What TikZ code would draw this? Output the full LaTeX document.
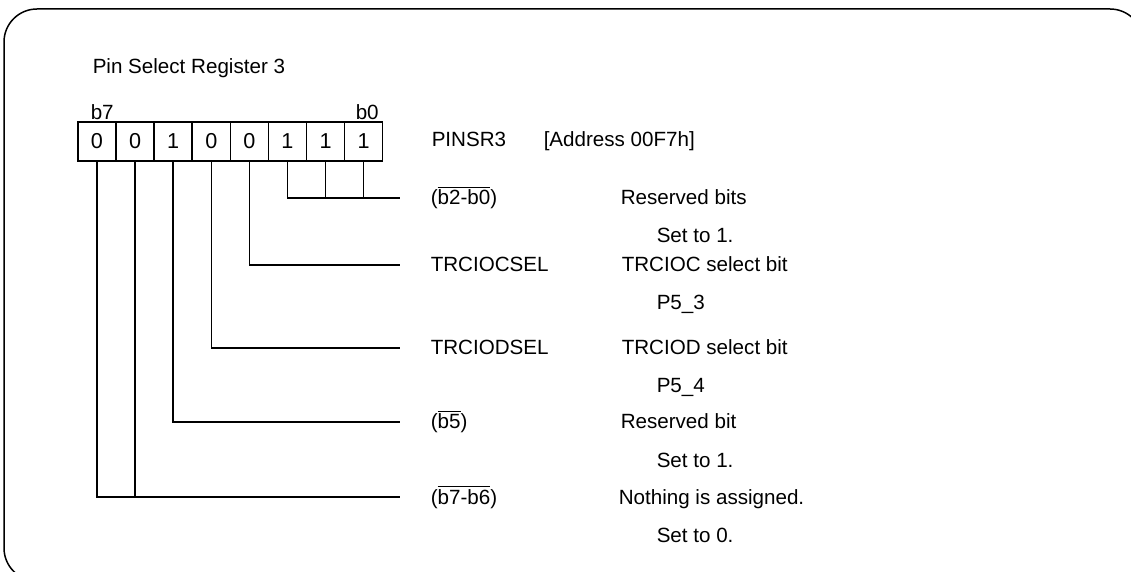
\documentclass[tikz,border=0pt]{standalone}
\usepackage{fontspec}
\setmainfont{Liberation Sans}
\begin{document}
\begin{tikzpicture}[x=0.5pt, y=-0.5pt, line width=0.75pt,
  every node/.style={font=\fontsize{10.3}{12}\selectfont, inner sep=0pt},
  bitbox/.style={draw, minimum width=19pt, minimum height=19.5pt, font=\fontsize{10.8}{12}\selectfont},
  txt/.style={anchor=base west}]
  \useasboundingbox (0,0) rectangle (1131,572);
  \clip (0,0) rectangle (1131,572);
  % --- Frame ---
  \draw[rounded corners=16.5pt] (4,9) rectangle (1143,581);

  % --- Title and register ---
  \node[txt] (title) at (92,74) {Pin Select Register 3};
  \foreach \v [count=\i from 0] in {0,0,1,0,0,1,1,1} {
    \pgfmathtruncatemacro{\b}{7-\i}
    \node[bitbox] (bit\b) at (97+38.1*\i,141.5) {\v};
  }
  \node[txt] (b7) at (90,120) {b7};
  \node[txt] (b0) at (355,120) {b0};
  \node[txt] (reg) at (431,147) {PINSR3};
  \node[txt] (addr) at (543,147) {[Address 00F7h]};

  % --- Bit descriptions ---
  \node[txt] (n20) at (430,205) {($\overline{\mbox{b2-b0}}$)};
  \node[txt] (d20) at (620,205) {Reserved bits};
  \node[txt] (s20) at (656,243) {Set to 1.};

  \node[txt] (n3) at (430,272) {TRCIOCSEL};
  \node[txt] (d3) at (621,272) {TRCIOC select bit};
  \node[txt] (s3) at (656,310) {P5\_3};

  \node[txt] (n4) at (430,355) {TRCIODSEL};
  \node[txt] (d4) at (621,355) {TRCIOD select bit};
  \node[txt] (s4) at (656,393) {P5\_4};

  \node[txt] (n5) at (430,429) {($\overline{\mbox{b5}}$)};
  \node[txt] (d5) at (620,429) {Reserved bit};
  \node[txt] (s5) at (656,467) {Set to 1.};

  \node[txt] (n76) at (430,504) {($\overline{\mbox{b7-b6}}$)};
  \node[txt] (d76) at (618,504) {Nothing is assigned.};
  \node[txt] (s76) at (656,542) {Set to 0.};

  % --- Connectors ---
  \coordinate (e20) at (400,198);
  \coordinate (e3) at (400,265);
  \coordinate (e4) at (400,348);
  \coordinate (e5) at (400,422);
  \coordinate (e76) at (400,497);
  \draw (bit2.south) |- (e20);
  \draw (bit1.south) -- (bit1.south |- e20);
  \draw (bit0.south) -- (bit0.south |- e20);
  \draw (bit3.south) |- (e3);
  \draw (bit4.south) |- (e4);
  \draw (bit5.south) |- (e5);
  \draw (bit7.south) |- (e76);
  \draw (bit6.south) -- (bit6.south |- e76);
\end{tikzpicture}
\end{document}
